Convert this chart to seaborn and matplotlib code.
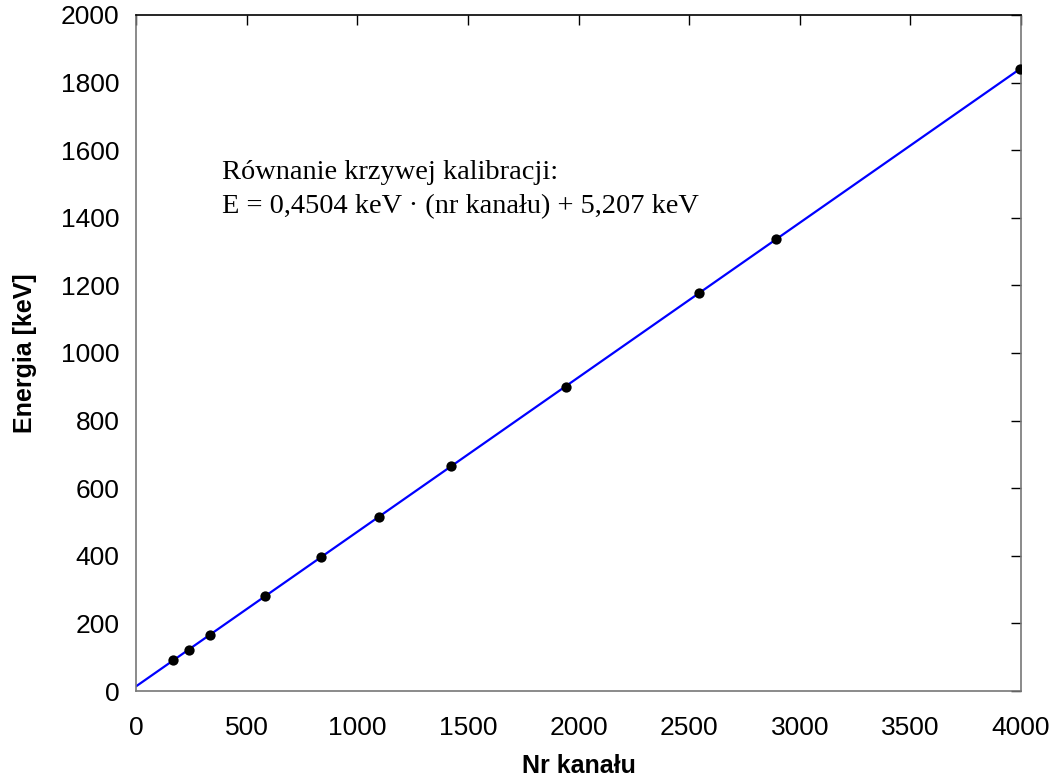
import numpy as np
import pandas as pd
import matplotlib
matplotlib.use("Agg")
import matplotlib.pyplot as plt
import seaborn as sns

# calibration points
channels = [166, 241, 334, 583, 835, 1100, 1425, 1942, 2543, 2891, 3996]
energies = [91.7, 121, 166.6, 281, 395.6, 515.7, 665.7, 900, 1178, 1336, 1840]

x_ticks = [0, 500, 1000, 1500, 2000, 2500, 3000, 3500, 4000]
y_ticks = [0, 200, 400, 600, 800, 1000, 1200, 1400, 1600, 1800, 2000]

eq_text = "Równanie krzywej kalibracji:\nE = 0,4504 keV · (nr kanału) + 5,207 keV"

sns.set_style("white")
plt.rcParams["font.family"] = ["Liberation Sans", "DejaVu Sans"]
plt.rcParams["text.color"] = "black"
plt.rcParams["axes.labelcolor"] = "black"
plt.rcParams["xtick.color"] = "black"
plt.rcParams["ytick.color"] = "black"

df = pd.DataFrame({"ch": channels, "E": energies})

# straight line fitted through the points, drawn from channel 0
slope, icpt = np.polyfit(df["ch"], df["E"], 1)
fit = pd.DataFrame({"ch": [0, df["ch"].max()]})
fit["E"] = slope * fit["ch"] + icpt

fig = plt.figure(figsize=(10.55, 7.8), dpi=100)
ax = fig.add_axes([0.1289, 0.1141, 0.8389, 0.8667])

sns.lineplot(data=fit, x="ch", y="E", color="#0000ff", lw=1.6, ax=ax)
sns.scatterplot(data=df, x="ch", y="E", color="black", s=55,
                edgecolor="black", linewidth=0, zorder=3, ax=ax)

ax.set_xlim(0, 4000)
ax.set_ylim(0, 2000)
ax.set_xticks(x_ticks)
ax.set_yticks(y_ticks)
ax.tick_params(direction="in", length=7, width=1, labelsize=19,
               top=True, right=True, labeltop=False, labelright=False)
ax.tick_params(axis="x", pad=18)
ax.tick_params(axis="y", pad=12)

for side in ["left", "right", "bottom"]:
    ax.spines[side].set_color("#777777")
ax.spines["top"].set_color("black")
for sp in ax.spines.values():
    sp.set_linewidth(1.2)

ax.set_xlabel("Nr kanału", fontsize=18, fontweight="bold", labelpad=10)
ax.set_ylabel("Energia [keV]", fontsize=18, fontweight="bold", labelpad=17)

ax.text(389, 1572, eq_text, family=["Liberation Serif", "DejaVu Serif"],
        fontsize=20.4, va="top", ha="left", linespacing=1.5)

fig.savefig("out.png", dpi=100)
plt.close(fig)
